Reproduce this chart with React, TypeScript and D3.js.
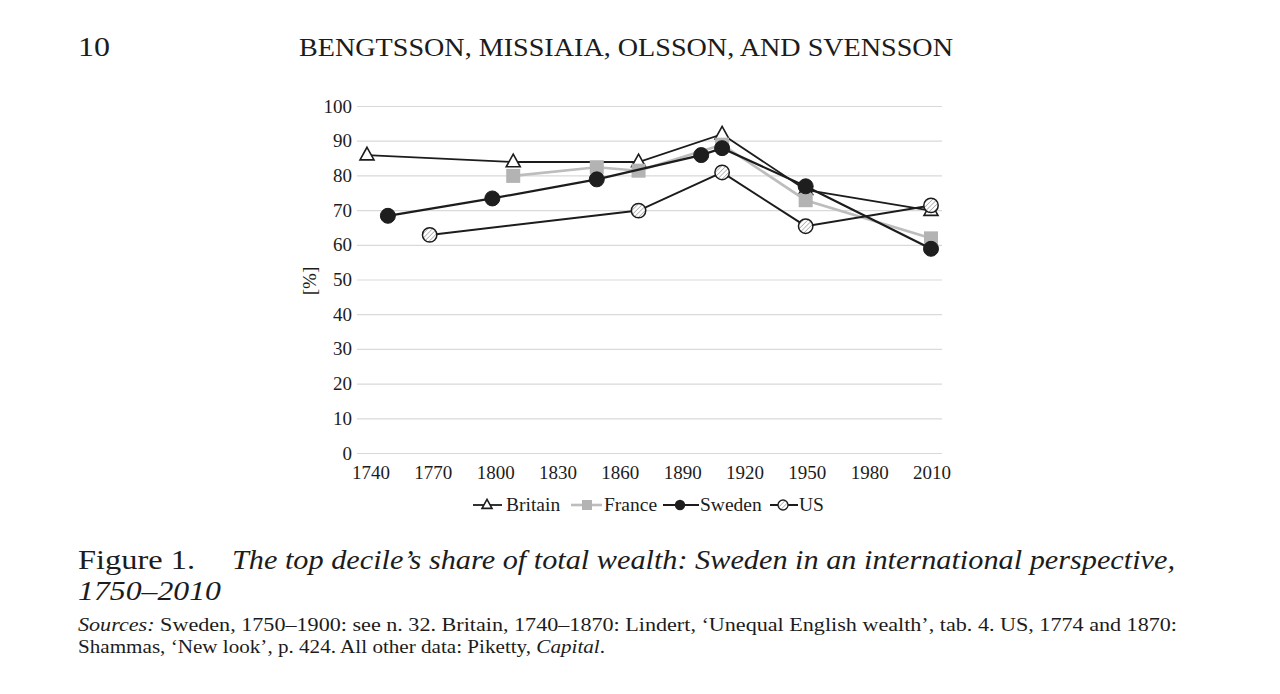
import React from "react";
import * as d3 from "d3";

const britainYears = [1740, 1810, 1870, 1910, 1950, 2010];
const britainValues = [86, 84, 84, 92, 76, 70];
const franceYears = [1810, 1850, 1870, 1910, 1950, 2010];
const franceValues = [80, 82.5, 81.5, 89, 73, 62];
const swedenYears = [1750, 1800, 1850, 1900, 1910, 1950, 2010];
const swedenValues = [68.5, 73.5, 79, 86, 88, 77, 59];
const usYears = [1770, 1870, 1910, 1950, 2010];
const usValues = [63, 70, 81, 65.5, 71.5];

const xTicks = [1740, 1770, 1800, 1830, 1860, 1890, 1920, 1950, 1980, 2010];
const yTicks = [0, 10, 20, 30, 40, 50, 60, 70, 80, 90, 100];

const FONT = "'Liberation Serif', 'Times New Roman', serif";
const INK = "#1c1c1c";

const x = d3.scaleLinear().domain([1740, 2010]).range([367, 931]);
const xLabel = d3.scaleLinear().domain([1740, 2010]).range([371, 932]);
const y = d3.scaleLinear().domain([0, 100]).range([453.5, 106.5]);

type Pt = { year: number; v: number };
const zip = (ys: number[], vs: number[]): Pt[] => ys.map((yr, i) => ({ year: yr, v: vs[i] }));

const lineGen = d3
  .line<Pt>()
  .x((d) => x(d.year))
  .y((d) => y(d.v));

function Triangle({ cx, cy, s }: { cx: number; cy: number; s: number }) {
  const h = s * 0.9;
  const p = `M${cx},${cy - h * 0.62} L${cx + s / 2},${cy + h * 0.38} L${cx - s / 2},${cy + h * 0.38} Z`;
  return <path d={p} fill="#fff" stroke={INK} strokeWidth={1.6} />;
}

export default function App() {
  const britain = zip(britainYears, britainValues);
  const france = zip(franceYears, franceValues);
  const sweden = zip(swedenYears, swedenValues);
  const us = zip(usYears, usValues);

  return (
    <svg
      width={1280}
      height={694}
      style={{ position: "absolute", left: 0, top: 0, background: "#fff" }}
      fontFamily={FONT}
    >
      <defs>
        <pattern id="hatch" width={3.2} height={3.2} patternUnits="userSpaceOnUse" patternTransform="rotate(45)">
          <rect width={3.2} height={3.2} fill="#fff" />
          <line x1={0} y1={0} x2={0} y2={3.2} stroke="#9a9a9a" strokeWidth={1.3} />
        </pattern>
      </defs>
      <rect width={1280} height={694} fill="#fff" />

      {/* Header */}
      <text x={78} y={56} fontSize={27} fill={INK} textLength={32} lengthAdjust="spacingAndGlyphs">10</text>
      <text x={299} y={56} fontSize={26} fill={INK} textLength={654} lengthAdjust="spacingAndGlyphs">
        BENGTSSON, MISSIAIA, OLSSON, AND SVENSSON
      </text>

      {/* Gridlines */}
      {yTicks.map((t) => (
        <line key={t} x1={357} x2={942} y1={y(t)} y2={y(t)} stroke="#d9d9d9" strokeWidth={1.2} />
      ))}
      {yTicks.map((t) => (
        <text key={"yl" + t} x={352} y={y(t) + 6} fontSize={19} textAnchor="end" fill={INK}>
          {t}
        </text>
      ))}
      {xTicks.map((t) => (
        <text key={"xl" + t} x={xLabel(t)} y={479} fontSize={19} textAnchor="middle" fill={INK}>
          {t}
        </text>
      ))}
      <text
        transform={`translate(316,281) rotate(-90)`}
        fontSize={19}
        textAnchor="middle"
        fill={INK}
      >
        [%]
      </text>

      {/* Lines */}
      <path d={lineGen(britain) || ""} fill="none" stroke={INK} strokeWidth={1.8} />
      {britain.map((d, i) => (
        <Triangle key={"b" + i} cx={x(d.year)} cy={y(d.v)} s={14} />
      ))}
      <path d={lineGen(france) || ""} fill="none" stroke="#bdbdbd" strokeWidth={2.6} />
      {france.map((d, i) => (
        <rect key={"f" + i} x={x(d.year) - 7} y={y(d.v) - 7} width={14} height={14} fill="#b3b3b3" />
      ))}
      <path d={lineGen(sweden) || ""} fill="none" stroke={INK} strokeWidth={2.2} />
      {sweden.map((d, i) => (
        <circle key={"s" + i} cx={x(d.year)} cy={y(d.v)} r={7.5} fill="#1e1e1e" stroke={INK} strokeWidth={1} />
      ))}
      <path d={lineGen(us) || ""} fill="none" stroke={INK} strokeWidth={2} />
      {us.map((d, i) => (
        <circle key={"u" + i} cx={x(d.year)} cy={y(d.v)} r={7.2} fill="url(#hatch)" stroke={INK} strokeWidth={1.5} />
      ))}

      {/* Legend */}
      <g fontSize={19.5} fill={INK}>
        <line x1={473} x2={502} y1={505} y2={505} stroke={INK} strokeWidth={1.8} />
        <Triangle cx={487} cy={505} s={10} />
        <text x={506} y={511}>Britain</text>

        <line x1={571} x2={602} y1={505} y2={505} stroke="#bdbdbd" strokeWidth={2.6} />
        <rect x={582} y={500} width={10} height={10} fill="#b3b3b3" />
        <text x={604} y={511}>France</text>

        <line x1={663} x2={699} y1={505} y2={505} stroke={INK} strokeWidth={2.2} />
        <circle cx={680} cy={505} r={5.2} fill="#1e1e1e" />
        <text x={700} y={511}>Sweden</text>

        <line x1={770} x2={798} y1={505} y2={505} stroke={INK} strokeWidth={2} />
        <circle cx={783} cy={505} r={5} fill="url(#hatch)" stroke={INK} strokeWidth={1.3} />
        <text x={799} y={511}>US</text>
      </g>

      {/* Caption */}
      <text x={78} y={569} fontSize={28} fill={INK} textLength={117} lengthAdjust="spacingAndGlyphs">Figure 1.</text>
      <text x={232} y={569} fontSize={27} fontStyle="italic" fill={INK} textLength={943} lengthAdjust="spacingAndGlyphs">
        The top decile’s share of total wealth: Sweden in an international perspective,
      </text>
      <text x={78} y={600} fontSize={27} fontStyle="italic" fill={INK} textLength={143} lengthAdjust="spacingAndGlyphs">1750–2010</text>

      <text x={78} y={631} fontSize={19.5} fill={INK} textLength={1099} lengthAdjust="spacingAndGlyphs">
        <tspan fontStyle="italic">Sources:</tspan> Sweden, 1750–1900: see n. 32. Britain, 1740–1870: Lindert, ‘Unequal English wealth’, tab. 4. US, 1774 and 1870:
      </text>
      <text x={78} y={653} fontSize={19.5} fill={INK} textLength={527} lengthAdjust="spacingAndGlyphs">
        Shammas, ‘New look’, p. 424. All other data: Piketty, <tspan fontStyle="italic">Capital</tspan>.
      </text>
    </svg>
  );
}
